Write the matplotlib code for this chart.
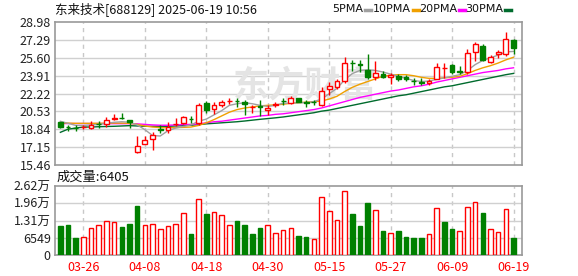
import matplotlib
matplotlib.use("Agg")
import matplotlib.pyplot as plt
from matplotlib.lines import Line2D
from matplotlib.patches import Rectangle

plt.rcParams["font.family"] = ["Noto Sans CJK SC", "DejaVu Sans"]

# trading days shown (MM-DD)
dates = ["03-21", "03-24", "03-25", "03-26", "03-27", "03-28", "03-31",
         "04-01", "04-02", "04-03", "04-07", "04-08", "04-09", "04-10", "04-11",
         "04-14", "04-15", "04-16", "04-17", "04-18", "04-21", "04-22", "04-23",
         "04-24", "04-25", "04-28", "04-29", "04-30",
         "05-06", "05-07", "05-08", "05-09", "05-12", "05-13", "05-14", "05-15",
         "05-16", "05-19", "05-20", "05-21", "05-22", "05-23", "05-26", "05-27",
         "05-28", "05-29", "05-30",
         "06-03", "06-04", "06-05", "06-06", "06-09", "06-10", "06-11", "06-12",
         "06-13", "06-16", "06-17", "06-18", "06-19"]

opens = [19.52, 19.05, 19.00, 19.02, 18.98, 19.38, 19.35, 19.80, 19.95, 19.74,
         16.65, 17.48, 17.92, 18.84, 18.74, 19.33, 19.44, 19.85, 19.46, 21.32,
         20.72, 21.14, 21.50, 21.55, 21.43, 20.92, 21.02, 20.67, 21.18, 21.52,
         21.34, 21.81, 21.40, 21.46, 21.10, 22.60, 22.85, 23.40, 25.12, 24.97,
         24.43, 23.80, 24.05, 23.78, 23.86, 23.74, 23.40, 23.26, 23.23, 23.59,
         24.62, 24.95, 24.33, 24.26, 26.17, 26.67, 25.22, 25.94, 25.94, 27.24]
highs = [19.56, 19.28, 19.22, 19.25, 19.66, 19.59, 19.97, 20.32, 20.39, 19.76,
         18.24, 18.17, 18.55, 19.22, 19.50, 19.92, 20.13, 20.13, 21.34, 21.49,
         21.40, 21.65, 21.75, 21.77, 21.65, 21.18, 21.58, 21.15, 21.40, 21.81,
         21.96, 21.83, 21.65, 21.62, 22.85, 23.29, 23.55, 25.66, 25.38, 25.35,
         25.92, 25.33, 24.35, 24.12, 24.02, 23.93, 23.64, 23.71, 23.55, 25.13,
         25.06, 24.97, 24.81, 26.39, 27.08, 26.86, 25.82, 26.30, 28.03, 27.34]
lows = [19.00, 18.65, 18.65, 18.85, 18.83, 18.97, 19.02, 19.73, 19.82, 19.00,
        16.62, 17.45, 16.84, 18.49, 18.49, 19.19, 19.37, 19.46, 19.28, 20.39,
        20.30, 20.98, 21.27, 20.99, 20.23, 20.42, 20.13, 20.23, 20.96, 21.18,
        21.24, 21.38, 20.98, 21.18, 21.02, 22.12, 22.60, 23.17, 24.34, 24.21,
        23.61, 23.45, 23.68, 23.14, 23.39, 23.39, 23.07, 23.07, 23.07, 23.55,
        23.64, 24.08, 24.02, 24.08, 25.28, 25.28, 25.13, 25.60, 25.73, 25.92]
closes = [19.04, 19.01, 18.96, 19.08, 19.26, 19.34, 19.75, 19.92, 19.90, 19.54,
          17.29, 17.86, 18.33, 18.80, 19.02, 19.38, 19.97, 19.80, 21.11, 20.70,
          21.16, 21.40, 21.55, 21.50, 21.21, 20.96, 20.97, 20.89, 21.22, 21.47,
          21.77, 21.40, 21.36, 21.43, 22.46, 22.91, 23.36, 25.10, 25.07, 24.92,
          23.76, 24.12, 23.78, 23.99, 23.58, 23.55, 23.36, 23.22, 23.43, 24.73,
          24.67, 24.21, 24.28, 26.08, 26.86, 25.41, 25.66, 26.13, 27.34, 26.51]

volumes = [11070, 11450, 6490, 6740, 10180, 11450, 12850, 12470, 10680, 11830,
           18700, 11450, 11830, 9800, 11070, 11830, 15900, 8010, 21240, 15650,
           16280, 15260, 11450, 12970, 11450, 8010, 10300, 11450, 8400, 9540,
           10180, 7250, 6870, 5980, 22000, 16660, 13230, 24300, 15650, 11070,
           19840, 17050, 9160, 8270, 9160, 6870, 6490, 6490, 7890, 17800,
           12590, 9920, 9030, 18190, 20100, 16030, 9800, 8650, 17430, 6405]
# 1 = red (up) volume bar, 0 = green
vol_up = [0, 0, 0, 1, 1, 1, 1, 1, 0, 0,
          0, 1, 1, 1, 1, 1, 1, 0, 1, 0,
          1, 1, 1, 0, 0, 0, 0, 1, 1, 1,
          1, 0, 0, 1, 1, 1, 1, 1, 0, 0,
          0, 1, 0, 1, 0, 0, 0, 0, 1, 1,
          0, 0, 1, 1, 1, 0, 1, 1, 1, 0]

ma5 = [19.59, 19.40, 19.20, 19.20, 19.25, 19.30, 19.40, 19.50, 19.55, 19.50,
       19.25, 18.80, 18.25, 18.20, 18.70, 18.95, 19.10, 19.25, 19.60, 19.80,
       20.20, 20.60, 21.10, 21.25, 21.35, 21.25, 21.10, 21.00, 21.10, 21.30,
       21.30, 21.35, 21.35, 21.45, 21.70, 22.20, 22.70, 23.50, 24.10, 24.40,
       24.45, 24.40, 24.25, 24.05, 23.85, 23.65, 23.45, 23.35, 23.40, 23.55,
       23.70, 23.85, 24.00, 24.40, 24.95, 25.35, 25.60, 25.85, 26.15, 26.20]
ma10 = [19.44, 19.42, 19.40, 19.40, 19.40, 19.40, 19.42, 19.42, 19.42, 19.40,
        19.30, 19.15, 19.05, 19.00, 18.98, 19.00, 19.02, 19.05, 19.20, 19.45,
        19.75, 20.10, 20.45, 20.70, 20.85, 20.95, 21.05, 21.10, 21.15, 21.20,
        21.30, 21.35, 21.40, 21.45, 21.50, 21.70, 21.95, 22.40, 22.80, 23.10,
        23.35, 23.60, 23.85, 23.95, 24.00, 24.00, 23.90, 23.75, 23.65, 23.65,
        23.70, 23.75, 23.85, 24.10, 24.40, 24.65, 24.85, 25.10, 25.40, 25.65]
ma20 = [19.38, 19.38, 19.38, 19.38, 19.38, 19.38, 19.37, 19.37, 19.37, 19.37,
        19.35, 19.30, 19.25, 19.22, 19.22, 19.25, 19.28, 19.30, 19.35, 19.45,
        19.55, 19.60, 19.70, 19.80, 19.90, 20.00, 20.10, 20.15, 20.25, 20.30,
        20.40, 20.50, 20.60, 20.70, 20.85, 21.05, 21.25, 21.45, 21.65, 21.85,
        22.00, 22.15, 22.30, 22.45, 22.55, 22.70, 22.85, 22.95, 23.10, 23.30,
        23.45, 23.60, 23.75, 23.90, 24.05, 24.20, 24.30, 24.40, 24.55, 24.65]
ma30 = [18.55, 18.85, 18.95, 19.05, 19.05, 19.08, 19.10, 19.12, 19.15, 19.18,
        19.15, 19.12, 19.12, 19.12, 19.12, 19.15, 19.18, 19.22, 19.28, 19.35,
        19.40, 19.45, 19.50, 19.55, 19.62, 19.70, 19.78, 19.85, 19.92, 20.00,
        20.10, 20.20, 20.30, 20.40, 20.55, 20.65, 20.80, 20.95, 21.10, 21.25,
        21.40, 21.55, 21.70, 21.85, 22.00, 22.10, 22.25, 22.40, 22.55, 22.70,
        22.85, 22.95, 23.10, 23.25, 23.40, 23.55, 23.70, 23.85, 24.00, 24.12]

price_ticks = [15.46, 17.15, 18.84, 20.53, 22.22, 23.91, 25.60, 27.29, 28.98]
vol_ticks = [0, 6549, 13098, 19647, 26196]
vol_tick_labels = ["0", "6549", "1.31万", "1.96万", "2.62万"]
date_ticks = [3, 11, 19, 27, 35, 43, 51, 59]

RED = "#ff0000"
GREEN = "#008000"
GRID = "#d0d0d0"
FRAME = "#999999"

W, H = 578, 276
fig = plt.figure(figsize=(W / 100, H / 100), dpi=100)


def px_axes(x0, y0, x1, y1):
    return fig.add_axes([x0 / W, 1 - y1 / H, (x1 - x0) / W, (y1 - y0) / H])


ax = px_axes(55, 22, 522, 165)
axv = px_axes(55, 186, 522, 255)

xlim = (-0.7, 60.1)
for a in (ax, axv):
    a.set_xlim(*xlim)
    for s in a.spines.values():
        s.set_color(FRAME)
        s.set_linewidth(1.2)
    a.tick_params(length=0, labelsize=9, colors="#222222", pad=3)
    for t in date_ticks:
        a.axvline(t, color="#c8c8c8", lw=1, ls=(0, (3, 3)), zorder=0)

# watermark, placed in figure pixels but drawn under the candles
ax.text(305 / W, 1 - 86 / H, "东方财富", transform=fig.transFigure,
        fontsize=26, color="#e4e4e4", ha="center", va="center",
        zorder=0.5, fontweight="bold", clip_on=False)

# price panel
ax.set_ylim(price_ticks[0], price_ticks[-1])
ax.set_yticks(price_ticks)
ax.set_yticklabels(["%.2f" % v for v in price_ticks])
for v in price_ticks[1:-1]:
    ax.axhline(v, color=GRID, lw=1, zorder=0)
ax.set_xticks([])

n = len(closes)
idx = list(range(n))
ax.plot(idx, ma30, color="#006b2d", lw=1.0, zorder=2)
ax.plot(idx, ma20, color="#ff00ff", lw=1.0, zorder=2)
ax.plot(idx, ma10, color="#f0a000", lw=1.0, zorder=2)
ax.plot(idx, ma5, color="#a0a0a0", lw=1.0, zorder=2)

bw = 0.62
for i in idx:
    o, h, l, c = opens[i], highs[i], lows[i], closes[i]
    up = c >= o
    col = RED if up else GREEN
    ax.vlines(i, l, h, color=col, lw=1, zorder=3)
    bot = min(o, c)
    hgt = max(abs(c - o), 0.02)
    ax.add_patch(Rectangle((i - bw / 2, bot), bw, hgt,
                           facecolor="white" if up else GREEN,
                           edgecolor=col, lw=1, zorder=4))

# volume panel
axv.set_ylim(0, vol_ticks[-1])
axv.set_yticks(vol_ticks)
axv.set_yticklabels(vol_tick_labels)
for v in vol_ticks[1:-1]:
    axv.axhline(v, color=GRID, lw=1, zorder=0)
vb = 0.6
for i in idx:
    col = RED if vol_up[i] else GREEN
    axv.add_patch(Rectangle((i - vb / 2, 0), vb, volumes[i],
                            facecolor="white" if vol_up[i] else GREEN,
                            edgecolor=col, lw=1, zorder=3))
axv.set_xticks(date_ticks)
axv.set_xticklabels([dates[t] for t in date_ticks], color=RED)
axv.tick_params(axis="x", colors=RED, pad=4)

# header texts
fig.text(55 / W, 1 - 9 / H, "东来技术[688129] 2025-06-19 10:56",
         fontsize=9, ha="left", va="center", color="#111111")
fig.text(57 / W, 1 - 177 / H, "成交量:6405", fontsize=9.5,
         ha="left", va="center", color="#111111")

legend = [("5PMA", "#a0a0a0", 365), ("10PMA", "#f0a000", 413),
          ("20PMA", "#ff00ff", 459), ("30PMA", "#006b2d", 505)]
for label, col, lx in legend:
    fig.text((lx - 2) / W, 1 - 9 / H, label, fontsize=8, ha="right",
             va="center", color="#111111", family="DejaVu Sans")
    fig.add_artist(Line2D([lx / W, (lx + 6) / W], [1 - 9.5 / H, 1 - 9.5 / H],
                          color=col, lw=2.5, transform=fig.transFigure))

fig.savefig("out.png", dpi=100)
